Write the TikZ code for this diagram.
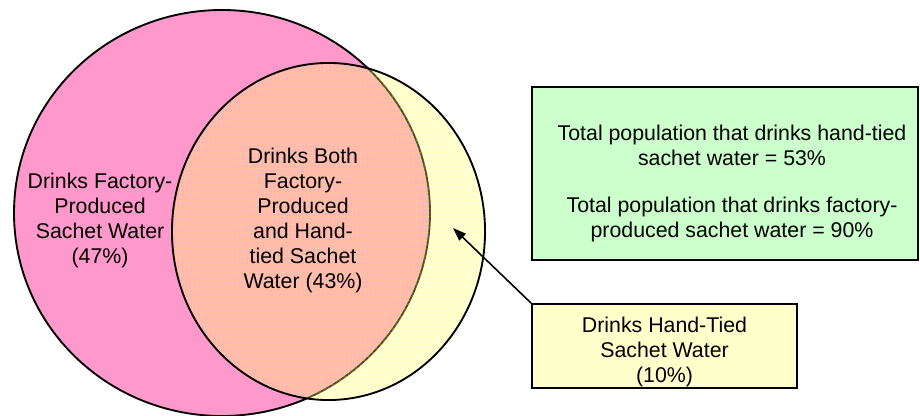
\documentclass[tikz,border=0pt]{standalone}
\usepackage{fontspec}
\setmainfont{Liberation Sans}
\usepackage{tikz}
\usetikzlibrary{arrows.meta, positioning, patterns}

\definecolor{factorypink}{RGB}{255,153,204}
\definecolor{handyellow}{RGB}{255,255,120}
\definecolor{totalgreen}{RGB}{204,255,204}
\definecolor{notefill}{RGB}{255,255,204}

\begin{document}
\begin{tikzpicture}[x=0.75pt, y=0.75pt,
    setlabel/.style={align=center, font=\fontsize{16}{18.75}\selectfont},
    infobox/.style={draw, line width=1.3pt, inner sep=0pt}]
    \useasboundingbox (0,0) rectangle (920,416);

    % the two sets
    \draw[fill=factorypink, line width=1.4pt] (222,203) ellipse [x radius=156pt, y radius=152.25pt];
    \draw[fill=handyellow, fill opacity=0.3, line width=1.4pt] (328.5,184.5) ellipse [x radius=117.4pt, y radius=126.4pt];
    \fill[pattern=grid, pattern color=yellow!60!white, opacity=0.12] (328.5,184.5) ellipse [x radius=116pt, y radius=125pt];
    \coordinate (crescent) at (453,188);

    \node[setlabel] (factory) at (100,196) {Drinks Factory-\\Produced\\Sachet Water\\(47\%)};
    \node[setlabel] (both) at (303,196) {Drinks Both\\Factory-\\Produced\\and Hand-\\tied Sachet\\Water (43\%)};

    % totals box
    \node[infobox, fill=totalgreen, minimum width=289.5pt, minimum height=129.75pt] (totals) at (725,242.5) {};
    \node[setlabel] (totaltext) at ([shift={(7,-10)}]totals.center) {Total population that drinks hand-tied\\sachet water = 53\%\\[17pt]Total population that drinks factory-\\produced sachet water = 90\%};

    % hand-tied only box
    \node[infobox, fill=notefill, minimum width=198.75pt, minimum height=63pt] (handtied) at (664.5,70) {};
    \node[setlabel] (handtext) at ([shift={(0,-6)}]handtied.center) {Drinks Hand-Tied\\Sachet Water\\(10\%)};

    \draw[-{Triangle[length=10pt,width=7pt]}, line width=1.2pt] (handtied.north west) -- (crescent);
\end{tikzpicture}
\end{document}
